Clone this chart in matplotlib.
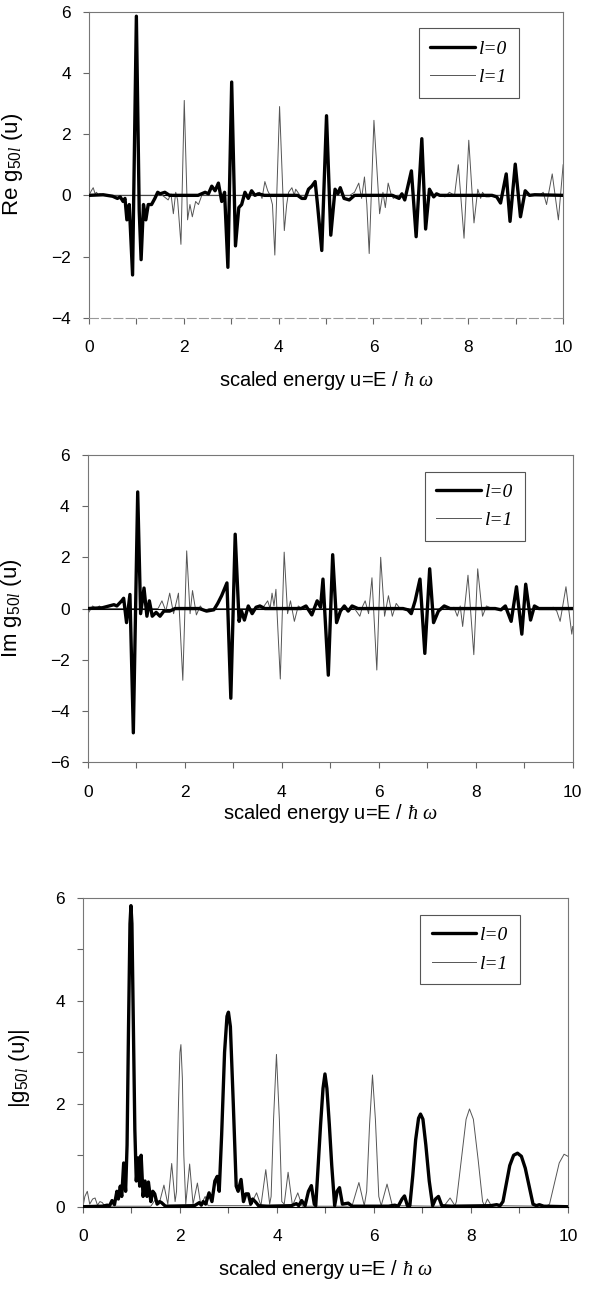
import matplotlib
matplotlib.use("Agg")
from matplotlib import pyplot as plt
from matplotlib.ticker import MultipleLocator

plt.rcParams["font.family"] = ["Liberation Sans", "DejaVu Sans"]
plt.rcParams["mathtext.fontset"] = "custom"
plt.rcParams["mathtext.rm"] = "Liberation Sans"
plt.rcParams["mathtext.it"] = "Liberation Serif:italic"

# ---- data (u = scaled energy) ----
re_l0_u = [0, 0.3, 0.5, 0.6, 0.66, 0.72, 0.76, 0.8, 0.85, 0.92, 1.0, 1.06, 1.1, 1.15, 1.2, 1.25, 1.32, 1.39,
           1.45, 1.5, 1.6, 1.7, 2.3, 2.45, 2.52, 2.59, 2.66, 2.73, 2.8, 2.86, 2.93, 3.01, 3.09, 3.16, 3.22,
           3.29, 3.36, 3.43, 3.5, 3.57, 3.7, 4.4, 4.49, 4.56, 4.63, 4.7, 4.77, 4.82, 4.91, 5.01, 5.1, 5.19,
           5.25, 5.3, 5.38, 5.49, 5.6, 6.4, 6.54, 6.6, 6.66, 6.8, 6.9, 7.02, 7.1, 7.18, 7.27, 7.33, 7.4, 8.5,
           8.6, 8.68, 8.8, 8.88, 8.99, 9.1, 9.2, 9.29, 9.4, 10]
re_l0_v = [0, 0.02, -0.03, -0.1, -0.05, -0.2, -0.1, -0.8, -0.3, -2.6, 5.85, -0.5, -2.1, -0.3, -0.8, -0.3, -0.3,
           -0.1, 0.1, 0.05, 0.1, 0.0, 0.0, 0.1, 0.05, 0.3, 0.15, 0.4, -0.2, 0.1, -2.35, 3.7, -1.65, -0.4, -0.3,
           0.1, -0.1, 0.15, 0.0, 0.05, 0.0, 0.0, -0.1, -0.1, 0.2, 0.3, 0.45, -0.3, -1.8, 2.6, -1.3, 0.2, 0.05,
           0.25, -0.1, -0.15, 0.0, 0.0, -0.1, 0.05, -0.15, 0.8, -1.35, 1.85, -1.1, 0.2, -0.05, 0.05, 0.0, 0.0,
           -0.05, -0.25, 0.7, -0.85, 1.02, -0.7, 0.15, 0.0, 0.02, 0]

re_l1_u = [0, 0.05, 0.09, 0.13, 0.16, 0.2, 0.23, 0.3, 1.55, 1.67, 1.73, 1.78, 1.83, 1.87, 1.94, 2.01, 2.08,
           2.13, 2.18, 2.25, 2.31, 2.38, 2.5, 3.5, 3.6, 3.65, 3.71, 3.77, 3.82, 3.87, 3.92, 4.02, 4.12, 4.17,
           4.21, 4.28, 4.33, 4.36, 4.45, 5.5, 5.6, 5.69, 5.75, 5.81, 5.86, 5.91, 6.01, 6.13, 6.2, 6.25, 6.31,
           6.37, 6.42, 6.5, 7.4, 7.51, 7.6, 7.71, 7.79, 7.91, 8.01, 8.12, 8.2, 8.26, 8.3, 8.37, 8.44, 8.55,
           9.5, 9.58, 9.65, 9.77, 9.9, 10]
re_l1_v = [0, 0.15, 0.25, 0.05, 0.1, 0.0, 0.05, 0.0, 0.0, -0.15, 0.05, -0.6, 0.1, -0.15, -1.6, 3.1, -0.8,
           -0.3, -0.7, -0.2, -0.3, 0.0, 0.0, 0.0, 0.1, -0.1, 0.45, 0.15, 0.0, -0.3, -1.95, 2.9, -1.15, -0.3,
           0.1, 0.25, 0.0, 0.2, 0.0, 0.0, 0.1, 0.4, -0.1, 0.6, -0.3, -1.9, 2.45, -0.6, 0.1, -0.4, 0.4, 0.05,
           -0.1, 0.0, 0.0, -0.05, 0.1, 0.0, 1.0, -1.4, 1.8, -0.9, 0.2, -0.1, 0.1, -0.05, -0.05, 0.0,
           0.0, 0.1, -0.3, 0.7, -0.8, 1.0]

im_l0_u = [0, 0.3, 0.54, 0.6, 0.7, 0.74, 0.8, 0.87, 0.94, 1.03, 1.09, 1.16, 1.22, 1.27, 1.33, 1.41, 1.49, 1.57,
           1.69, 1.8, 2.3, 2.45, 2.6, 2.68, 2.76, 2.87, 2.95, 3.04, 3.12, 3.17, 3.23, 3.31, 3.39, 3.47, 3.55,
           3.65, 4.4, 4.5, 4.62, 4.73, 4.8, 4.85, 4.96, 5.05, 5.13, 5.21, 5.29, 5.37, 5.45, 5.57, 6.5, 6.6,
           6.67, 6.75, 6.85, 6.95, 7.05, 7.13, 7.23, 7.35, 7.47, 8.4, 8.52, 8.61, 8.73, 8.84, 8.95, 9.03,
           9.13, 9.21, 9.3, 10]
im_l0_v = [0.0, 0.03, 0.15, 0.1, 0.3, 0.4, -0.55, 0.55, -4.85, 4.55, -0.2, 0.8, -0.3, 0.3, -0.3, -0.15, -0.3,
           -0.1, -0.1, 0.0, 0.0, -0.1, -0.05, 0.2, 0.5, 1.0, -3.5, 2.9, -0.5, -0.1, -0.45, 0.1, -0.2, 0.05,
           0.1, 0.0, 0.0, 0.1, -0.25, 0.3, 0.05, 1.15, -2.6, 2.1, -0.55, -0.1, 0.1, -0.1, 0.1, 0.0, 0.0,
           -0.05, -0.2, 0.3, 1.15, -1.75, 1.55, -0.55, -0.1, 0.1, 0.0, 0.0, -0.05, 0.1, -0.5, 0.85, -1.0,
           0.95, -0.45, 0.1, 0.0, 0.0]

im_l1_u = [0, 0.02, 0.1, 0.18, 0.24, 0.3, 1.45, 1.53, 1.61, 1.69, 1.77, 1.87, 1.96, 2.04, 2.11, 2.16, 2.24,
           2.32, 2.4, 2.5, 3.6, 3.71, 3.76, 3.8, 3.84, 3.88, 3.97, 4.05, 4.12, 4.18, 4.26, 4.34, 4.42, 5.5,
           5.61, 5.67, 5.72, 5.79, 5.86, 5.96, 6.04, 6.12, 6.2, 6.28, 6.36, 6.44, 7.5, 7.55, 7.62, 7.68,
           7.73, 7.84, 7.96, 8.04, 8.14, 8.22, 8.34, 9.5, 9.6, 9.67, 9.74, 9.86, 9.98, 10]
im_l1_v = [0, -0.15, 0.1, 0.0, 0.1, 0.0, 0.0, 0.3, -0.1, 0.6, -0.2, 0.6, -2.8, 2.25, -0.2, 0.7, -0.25, 0.1,
           -0.1, 0.0, 0.0, 0.3, 0.0, 0.6, 0.1, 0.75, -2.75, 2.2, -0.2, 0.3, -0.5, 0.1, 0.0, 0.0, -0.3, 0.1,
           0.3, -0.2, 1.2, -2.4, 2.0, -0.3, 0.5, -0.3, 0.2, 0.0, 0.0, 0.05, -0.3, 0.1, -0.7, 1.3, -1.8, 1.55,
           -0.3, 0.1, 0.0, 0.0, 0.05, -0.1, -0.5, 0.85, -1.0, -0.7]

abs_l0_u = [0, 0.4, 0.5, 0.55, 0.6, 0.65, 0.7, 0.73, 0.77, 0.8, 0.84, 0.88, 0.91, 0.94, 0.97, 0.99, 1.01,
            1.04, 1.07, 1.1, 1.14, 1.17, 1.2, 1.24, 1.28, 1.32, 1.35, 1.4, 1.44, 1.48, 1.53, 1.58, 1.62, 1.7,
            2.3, 2.4, 2.44, 2.48, 2.53, 2.6, 2.66, 2.72, 2.77, 2.81, 2.86, 2.92, 2.97, 3.0, 3.04, 3.1, 3.16,
            3.2, 3.26, 3.31, 3.36, 3.41, 3.46, 3.5, 3.57, 3.62, 3.8, 4.3, 4.4, 4.45, 4.51, 4.58, 4.65, 4.71,
            4.77, 4.8, 4.85, 4.9, 4.95, 4.99, 5.03, 5.08, 5.13, 5.19, 5.24, 5.29, 5.35, 5.41, 5.47, 5.55, 6.3,
            6.43, 6.5, 6.58, 6.63, 6.69, 6.74, 6.8, 6.86, 6.92, 6.96, 7.01, 7.07, 7.14, 7.21, 7.27, 7.33, 7.4,
            7.6, 8.4, 8.53, 8.6, 8.66, 8.72, 8.8, 8.88, 8.96, 9.04, 9.12, 9.2, 9.28, 9.35, 9.41, 9.5, 10]
abs_l0_v = [0, 0.01, 0.03, 0.02, 0.12, 0.04, 0.3, 0.15, 0.4, 0.2, 0.85, 0.3, 1.2, 3.5, 5.5, 5.85, 5.5,
            3.5, 1.5, 0.5, 0.95, 0.4, 1.0, 0.2, 0.5, 0.2, 0.48, 0.1, 0.3, 0.25, 0.05, 0.1, 0.08, 0.01,
            0.02, 0.08, 0.03, 0.1, 0.05, 0.27, 0.1, 0.5, 0.59, 0.3, 1.4, 3.0, 3.7, 3.78, 3.5, 2.0, 0.4,
            0.3, 0.53, 0.1, 0.25, 0.25, 0.05, 0.15, 0.08, 0.02, 0.01, 0.02, 0.06, 0.02, 0.12, 0.02, 0.3, 0.41,
            0.05, 0.02, 0.8, 1.6, 2.3, 2.58, 2.3, 1.6, 0.8, 0.02, 0.3, 0.37, 0.05, 0.06, 0.07, 0.01, 0.01,
            0.03, 0.01, 0.15, 0.21, 0.02, 0.02, 0.6, 1.3, 1.72, 1.8, 1.7, 1.2, 0.5, 0.02, 0.15, 0.2, 0.02,
            0.01, 0.02, 0.04, 0.02, 0.1, 0.4, 0.8, 1.0, 1.04, 0.98, 0.75, 0.4, 0.05, 0.02, 0.04, 0.01, 0]

abs_l1_u = [0, 0.04, 0.09, 0.14, 0.2, 0.25, 0.3, 0.35, 0.4, 0.45, 1.4, 1.5, 1.57, 1.67, 1.75, 1.83, 1.9,
            1.93, 1.97, 2.0, 2.02, 2.05, 2.08, 2.12, 2.2, 2.27, 2.36, 2.43, 2.52, 2.58, 3.45, 3.58, 3.67,
            3.77, 3.85, 3.88, 3.93, 3.99, 4.05, 4.1, 4.15, 4.23, 4.32, 4.43, 4.52, 5.45, 5.55, 5.69, 5.8,
            5.85, 5.91, 5.97, 6.03, 6.1, 6.15, 6.27, 6.38, 7.3, 7.45, 7.57, 7.67, 7.7, 7.8, 7.9, 7.97, 8.05,
            8.15, 8.24, 8.28, 8.34, 8.42, 9.55, 9.62, 9.72, 9.82, 9.92, 10]
abs_l1_v = [0, 0.2, 0.3, 0.05, 0.15, 0.17, 0.03, 0.1, 0.08, 0.01, 0.01, 0.15, 0.05, 0.42, 0.05, 0.84, 0.1,
            0.3, 2.0, 3.0, 3.15, 2.5, 1.0, 0.05, 0.83, 0.05, 0.46, 0.03, 0.2, 0.02, 0.02, 0.27, 0.02,
            0.72, 0.05, 0.2, 1.7, 2.96, 1.7, 0.1, 0.05, 0.67, 0.02, 0.27, 0.01, 0.01, 0.02, 0.47, 0.02,
            0.3, 1.6, 2.56, 1.7, 0.2, 0.02, 0.44, 0.02, 0.01, 0.02, 0.17, 0.02, 0.1, 0.9, 1.7, 1.9, 1.7,
            0.9, 0.1, 0.02, 0.15, 0.02, 0.01, 0.05, 0.45, 0.85, 1.02, 0.98]

panels = [
    ("Re g$_{\\mathrm{50}\\mathit{l}}$ (u)", re_l0_u, re_l0_v, re_l1_u, re_l1_v, (-4, 6), 2),
    ("Im g$_{\\mathrm{50}\\mathit{l}}$ (u)", im_l0_u, im_l0_v, im_l1_u, im_l1_v, (-6, 6), 2),
    ("|g$_{\\mathrm{50}\\mathit{l}}$ (u)|", abs_l0_u, abs_l0_v, abs_l1_u, abs_l1_v, (0, 6), 1),
]
# axes rectangles in figure fractions (left, bottom, width, height)
rects = [(0.148, 0.754, 0.789, 0.237),
         (0.146, 0.410, 0.807, 0.238),
         (0.138, 0.066, 0.807, 0.239)]
ylab_x = [-0.135, -0.132, -0.105]
ylab_y = [0.5, 0.5, 0.45]
xlab_pad = [10, 2, 10]

fig = plt.figure(figsize=(6.01, 12.92), dpi=100)

for i, (ylab, u0, v0, u1, v1, ylim, ystep) in enumerate(panels):
    ax = fig.add_axes(rects[i])
    if i < 2:
        ax.axhline(0, color="k", lw=0.8, zorder=1)
    ax.plot(u1, v1, color="#555555", lw=0.7, zorder=2, label="l=1",
            solid_joinstyle="round")
    ax.plot(u0, v0, color="black", lw=2.4, zorder=3, label="l=0",
            solid_joinstyle="round", solid_capstyle="round")
    ax.set_xlim(0, 10)
    ax.set_ylim(*ylim)
    ax.xaxis.set_major_locator(MultipleLocator(2))
    ax.xaxis.set_minor_locator(MultipleLocator(1))
    ax.yaxis.set_major_locator(MultipleLocator(2))
    if ystep == 1:
        ax.yaxis.set_minor_locator(MultipleLocator(1))
    ax.tick_params(which="both", direction="out", length=4, width=0.8, color="#666666")
    ax.tick_params(axis="x", labelsize=12.5, pad=12)
    ax.tick_params(axis="y", labelsize=12.5, pad=9)
    for side in ["left", "right", "top", "bottom"]:
        ax.spines[side].set_color("#777777")
        ax.spines[side].set_linewidth(0.8)
    if i == 0:
        ax.spines["bottom"].set_linestyle((0, (8, 3)))
        ax.spines["bottom"].set_color("#999999")
    if i == 2:
        ax.spines["bottom"].set_color("black")
    ax.set_xlabel("scaled energy u=E / $\\hbar$ $\\omega$", fontsize=14.5, labelpad=xlab_pad[i])
    ax.set_ylabel(ylab, fontsize=16)
    ax.yaxis.set_label_coords(ylab_x[i], ylab_y[i])
    h, l = ax.get_legend_handles_labels()
    leg = ax.legend(h[::-1], l[::-1], loc="upper left", bbox_to_anchor=(0.695, 0.945),
                    prop={"family": "Liberation Serif", "style": "italic", "size": 14},
                    frameon=True, fancybox=False, framealpha=1, edgecolor="#555555",
                    handlelength=2.3, handletextpad=0.2, borderpad=0.6, labelspacing=0.55,
                    borderaxespad=0)
    leg.get_frame().set_linewidth(0.8)

fig.savefig("out.png", dpi=100)
